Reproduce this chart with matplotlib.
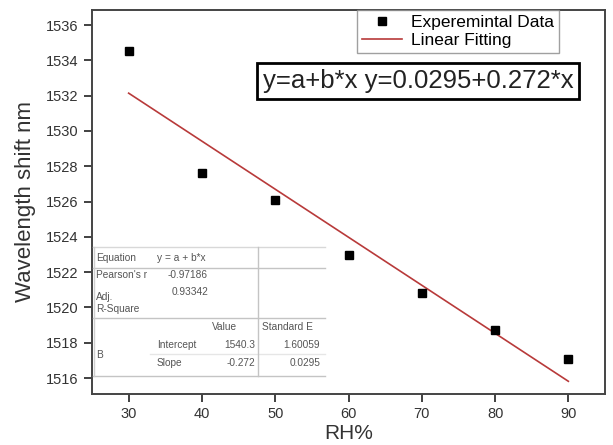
import matplotlib
matplotlib.use("Agg")
import matplotlib.pyplot as plt
import numpy as np
from matplotlib.lines import Line2D

plt.rcParams['font.family'] = ['Liberation Sans', 'DejaVu Sans']

# ---- data ----
rh = [30, 40, 50, 60, 70, 80, 90]
shift = [1534.5, 1527.6, 1526.1, 1523.0, 1520.8, 1518.7, 1517.1]
fit_intercept = 1540.3
fit_slope = -0.272
x_ticks = [30, 40, 50, 60, 70, 80, 90]
y_ticks = [1516, 1518, 1520, 1522, 1524, 1526, 1528, 1530, 1532, 1534, 1536]
equation_text = "y=a+b*x y=0.0295+0.272*x"

tbl_equation = "y = a + b*x"
tbl_pearson = "-0.97186"
tbl_adjr2 = "0.93342"
tbl_intercept = ["1540.3", "1.60059"]
tbl_slope = ["-0.272", "0.0295"]

W, H = 613, 445
fig = plt.figure(figsize=(W / 100, H / 100), dpi=100)
ax = fig.add_axes([92 / W, 1 - 394 / H, (605 - 92) / W, (394 - 10) / H])

ax.plot(rh, shift, linestyle='none', marker='s', markersize=6,
        color='black', label='Experemintal Data', zorder=3)
xf = np.array([rh[0], rh[-1]], dtype=float)
ax.plot(xf, fit_intercept + fit_slope * xf, color='#b83a3a', lw=1.2,
        label='Linear Fitting', zorder=2)

ax.set_xlim(25, 95)
ax.set_ylim(1515.1, 1536.85)
ax.set_xticks(x_ticks)
ax.set_yticks(y_ticks)
ax.tick_params(direction='out', length=5.5, width=1.3, labelsize=10.5,
               labelcolor='#333333', color='#333333', pad=4)
ax.tick_params(top=False, right=False)
for s in ax.spines.values():
    s.set_linewidth(1.4)
    s.set_color('#444444')

ax.set_xlabel('RH%', fontsize=15, color='#333333', labelpad=2)
ax.set_ylabel('Wavelength shift nm', fontsize=16, color='#333333', labelpad=7)

leg = ax.legend(loc='upper left', bbox_to_anchor=((357 - 92) / (605 - 92), 1.0),
                fontsize=12.5, frameon=True, fancybox=False, handlelength=2.3,
                handletextpad=0.5, borderpad=0.3, labelspacing=0.12,
                borderaxespad=0)
leg.get_frame().set_edgecolor('#888888')
leg.get_frame().set_linewidth(1.0)

# equation box
fig.text(263 / W, 1 - 81 / H, equation_text, fontsize=18.5, color='#222222',
         va='center', ha='left',
         bbox=dict(boxstyle='square,pad=0.22', fc='white', ec='black', lw=2))

# ---- statistics table ----
def px(x, y):
    return x / W, 1 - y / H

tc = '#555555'
fs = 7.3
def t(x, y, s, ha='left'):
    fx, fy = px(x, y)
    fig.text(fx, fy, s, fontsize=fs, color=tc, ha=ha, va='center')

def hline(y, x0=93, x1=325, c='#c4c4c4'):
    a, b = px(x0, y)
    c2, d = px(x1, y)
    fig.add_artist(Line2D([a, c2], [b, d], color=c, lw=1.0))

def vline(x, y0=247, y1=376, c='#c4c4c4'):
    a, b = px(x, y0)
    c2, d = px(x, y1)
    fig.add_artist(Line2D([a, c2], [b, d], color=c, lw=1.0))

hline(247, c='#d8d8d8')
hline(268)
hline(318)
hline(376)
hline(354, x0=150, c='#e6e6e6')
vline(258)
vline(94, c='#cfcfcf')

t(96, 258, 'Equation')
t(157, 258, tbl_equation)
t(96, 275, "Pearson's r")
t(208, 275, tbl_pearson, ha='right')
t(96, 297, 'Adj.')
t(96, 309, 'R-Square')
t(208, 292, tbl_adjr2, ha='right')
t(237, 327, 'Value', ha='right')
t(262, 327, 'Standard E')
t(96, 355, 'B')
t(157, 345, 'Intercept')
t(255, 345, tbl_intercept[0], ha='right')
t(320, 345, tbl_intercept[1], ha='right')
t(157, 363, 'Slope')
t(255, 363, tbl_slope[0], ha='right')
t(320, 363, tbl_slope[1], ha='right')

fig.savefig('out.png', dpi=100)
